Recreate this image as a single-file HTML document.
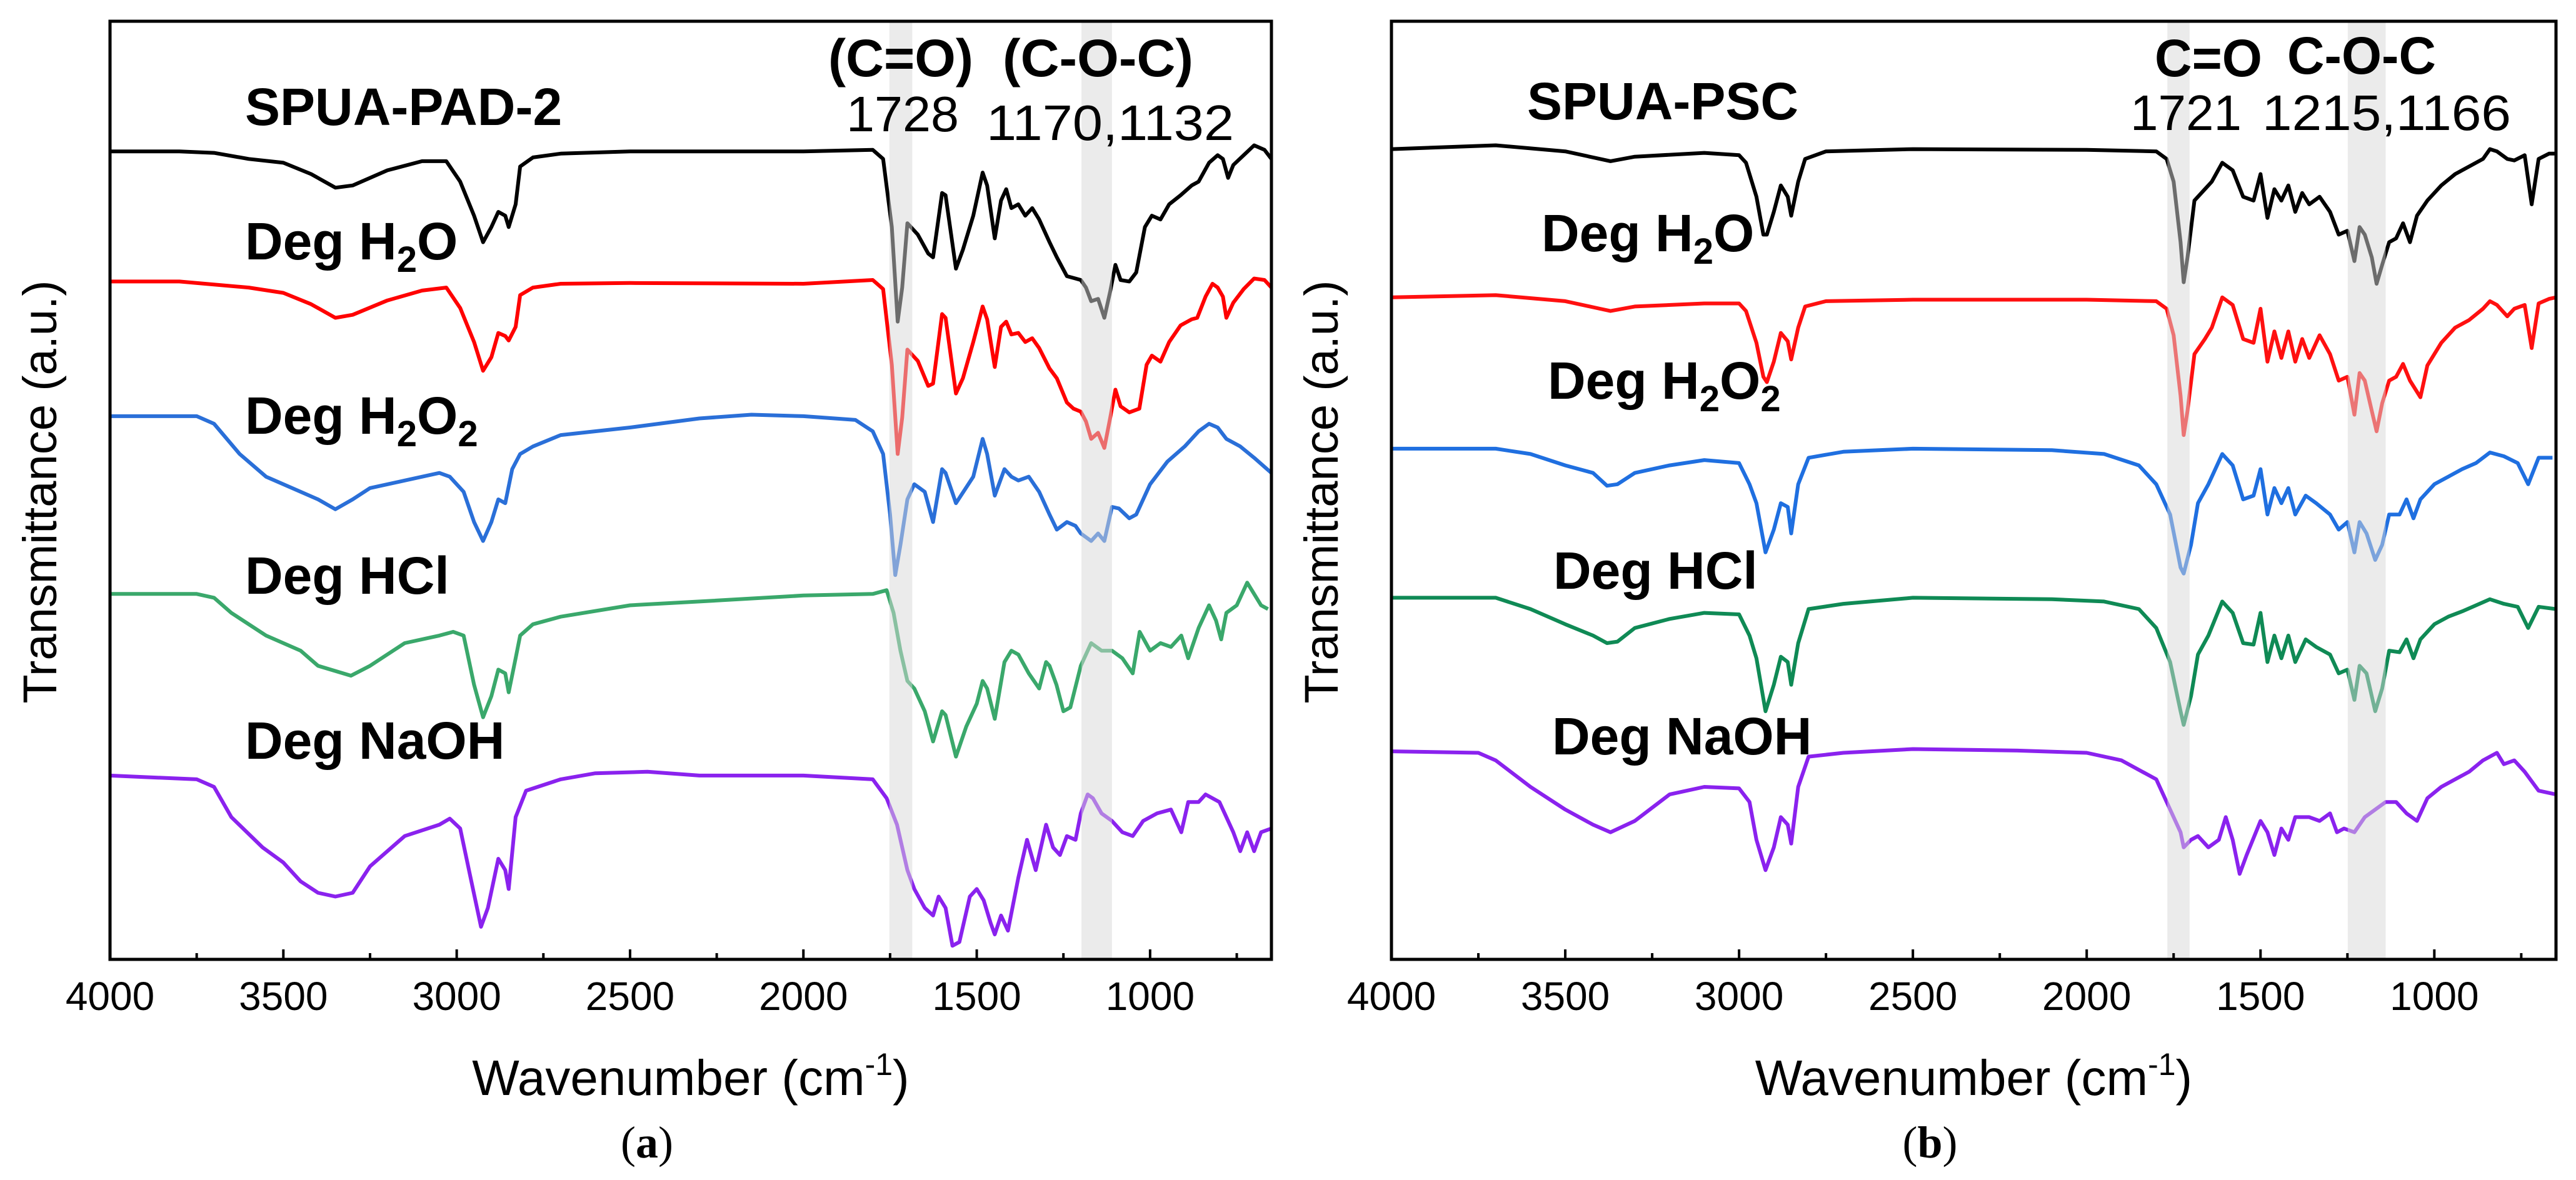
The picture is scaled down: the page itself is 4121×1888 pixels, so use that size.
<!DOCTYPE html>
<html><head><meta charset="utf-8"><style>
html,body{margin:0;padding:0;background:#fff;}
svg{display:block;}
</style></head><body>
<svg id="chart" xmlns="http://www.w3.org/2000/svg" width="4121" height="1888" viewBox="0 0 4121 1888" font-family="'Liberation Sans', Arial, sans-serif">
<rect x="0" y="0" width="4121" height="1888" fill="#fff"/>
<g id="panelA"></g>
<g id="panelB"></g>
</svg>
<script>
// ---------- data ----------
const xTicks = [4000, 3500, 3000, 2500, 2000, 1500, 1000];
const xMinorTicks = [3750, 3250, 2750, 2250, 1750, 1250, 750];
const seriesNamesA = ['SPUA-PAD-2', 'Deg H2O', 'Deg H2O2', 'Deg HCl', 'Deg NaOH'];
const seriesNamesB = ['SPUA-PSC', 'Deg H2O', 'Deg H2O2', 'Deg HCl', 'Deg NaOH'];
const offsetsA = [1068, 896, 718, 483, 243];
const offsetsB = [1071, 875, 675, 478, 275];
const bandsA = [[1752, 1686], [1198, 1110]];
const bandsB = [[1768, 1704], [1249, 1140]];

const blackA = [[4000,0],[3800,0],[3700,2],[3600,10],[3500,15],[3420,30],[3350,48],[3300,45],[3200,25],[3100,13],[3030,13],[2990,40],[2950,85],[2924,120],[2900,100],[2880,80],[2860,85],[2850,100],[2830,70],[2817,20],[2780,8],[2700,3],[2500,0],[2000,0],[1800,-2],[1770,10],[1745,100],[1728,225],[1715,180],[1700,95],[1670,110],[1640,135],[1626,140],[1600,55],[1590,58],[1560,155],[1540,130],[1510,85],[1483,28],[1470,45],[1448,115],[1430,65],[1415,50],[1400,75],[1380,70],[1360,85],[1340,75],[1320,90],[1290,120],[1269,140],[1240,165],[1215,168],[1200,170],[1185,180],[1170,198],[1150,195],[1132,220],[1115,185],[1100,150],[1085,170],[1060,172],[1040,160],[1015,100],[995,85],[970,90],[945,70],[912,58],[880,45],[860,40],[830,15],[805,5],[790,10],[775,35],[760,18],[730,5],[700,-8],[670,-2],[650,10]];
const redA = [[4000,0],[3800,0],[3600,8],[3500,15],[3420,30],[3350,48],[3300,44],[3200,25],[3100,12],[3030,8],[2990,35],[2950,80],[2924,118],[2900,100],[2880,68],[2860,72],[2850,78],[2830,60],[2817,18],[2780,8],[2700,3],[2500,2],[2000,3],[1800,-2],[1770,10],[1745,110],[1728,228],[1715,180],[1700,90],[1670,105],[1640,138],[1626,135],[1600,43],[1590,48],[1560,148],[1540,128],[1510,80],[1483,33],[1470,50],[1448,113],[1430,60],[1415,53],[1400,70],[1380,68],[1360,80],[1340,75],[1320,88],[1290,115],[1269,128],[1240,160],[1221,168],[1200,172],[1185,185],[1170,208],[1150,200],[1132,220],[1115,180],[1100,143],[1085,165],[1060,173],[1031,168],[1010,110],[995,98],[970,106],[945,80],[912,58],[880,50],[864,48],[840,20],[820,3],[805,8],[790,20],[780,48],[760,28],[730,10],[700,-4],[670,-2],[650,8]];
const blueA = [[4000,0],[3750,0],[3700,10],[3626,50],[3550,80],[3450,100],[3400,110],[3350,123],[3300,110],[3250,95],[3150,85],[3050,75],[3020,80],[2980,100],[2950,140],[2924,165],[2900,140],[2880,110],[2860,115],[2840,70],[2817,50],[2780,40],[2700,25],[2500,15],[2300,3],[2150,-2],[2000,0],[1850,5],[1800,20],[1770,50],[1750,130],[1735,210],[1720,170],[1700,110],[1680,90],[1650,100],[1626,140],[1600,70],[1590,75],[1560,115],[1510,80],[1483,30],[1470,50],[1448,105],[1420,70],[1400,80],[1380,85],[1350,80],[1320,100],[1290,130],[1269,150],[1240,140],[1215,145],[1200,155],[1170,165],[1150,155],[1132,165],[1110,120],[1090,122],[1060,135],[1040,130],[1000,90],[950,60],[900,40],[860,20],[830,10],[805,15],[780,30],[740,40],[700,55],[650,75]];
const greenA = [[4000,0],[3750,0],[3700,5],[3650,25],[3550,55],[3450,75],[3400,95],[3305,108],[3250,95],[3150,65],[3050,55],[3010,50],[2980,55],[2950,120],[2924,163],[2900,135],[2880,100],[2860,105],[2850,130],[2830,85],[2817,55],[2780,40],[2700,30],[2500,15],[2300,10],[2000,2],[1800,0],[1760,-5],[1740,25],[1720,75],[1700,115],[1680,125],[1650,155],[1626,195],[1600,155],[1590,160],[1560,215],[1530,175],[1500,145],[1483,115],[1470,125],[1448,165],[1420,90],[1400,75],[1380,80],[1350,105],[1320,125],[1300,90],[1290,95],[1270,120],[1250,155],[1230,150],[1200,95],[1170,65],[1140,75],[1110,75],[1080,85],[1050,105],[1030,50],[1000,75],[970,65],[940,70],[910,55],[890,85],[860,45],[830,15],[810,35],[795,60],[780,25],[750,15],[720,-15],[700,0],[680,15],[660,20]];
const purpleA = [[4000,0],[3750,5],[3700,15],[3650,55],[3560,95],[3500,115],[3450,140],[3400,155],[3350,160],[3300,155],[3250,120],[3150,80],[3050,65],[3020,57],[2990,70],[2960,135],[2930,200],[2910,175],[2880,110],[2860,125],[2850,150],[2830,55],[2800,20],[2700,5],[2600,-3],[2450,-5],[2300,0],[2000,0],[1800,5],[1760,30],[1730,65],[1700,125],[1680,150],[1650,175],[1626,185],[1610,160],[1590,175],[1570,225],[1550,220],[1520,160],[1500,150],[1480,165],[1460,195],[1448,210],[1430,185],[1410,205],[1380,135],[1355,85],[1330,125],[1300,65],[1280,95],[1260,105],[1240,80],[1215,85],[1200,50],[1180,25],[1165,30],[1140,50],[1110,60],[1080,75],[1050,80],[1020,60],[980,50],[940,45],[910,75],[890,35],[860,35],[840,25],[800,35],[780,55],[760,75],[740,100],[720,75],[700,100],[680,75],[650,70]];

const blackB = [[4000,0],[3700,-5],[3500,3],[3400,13],[3370,16],[3300,10],[3100,5],[3000,8],[2980,18],[2950,63],[2930,113],[2920,113],[2900,83],[2880,48],[2860,63],[2850,88],[2830,43],[2810,13],[2750,3],[2500,0],[2000,1],[1800,3],[1770,13],[1750,43],[1730,123],[1721,176],[1710,143],[1690,68],[1660,53],[1640,43],[1610,18],[1580,28],[1550,63],[1520,68],[1500,33],[1480,91],[1460,53],[1440,68],[1420,48],[1400,83],[1380,58],[1360,73],[1330,63],[1300,83],[1275,113],[1250,108],[1230,148],[1215,103],[1200,113],[1180,143],[1166,178],[1150,153],[1130,123],[1110,118],[1090,98],[1070,123],[1050,88],[1020,68],[980,48],[940,33],[900,23],[860,13],[840,0],[820,3],[790,13],[770,15],[740,8],[720,73],[700,13],[670,6],[650,6]];
const redB = [[4000,0],[3700,-3],[3500,5],[3400,15],[3370,18],[3300,12],[3100,8],[3000,8],[2980,18],[2950,60],[2930,105],[2920,112],[2900,85],[2880,47],[2860,58],[2850,82],[2830,40],[2810,12],[2750,5],[2500,3],[2000,3],[1800,5],[1770,15],[1750,50],[1730,130],[1721,182],[1710,150],[1690,75],[1660,55],[1640,40],[1610,0],[1580,10],[1550,55],[1520,60],[1500,15],[1480,85],[1460,45],[1440,80],[1420,45],[1400,85],[1380,55],[1360,80],[1330,50],[1300,75],[1275,110],[1250,105],[1230,155],[1215,100],[1200,110],[1180,150],[1166,177],[1150,140],[1130,110],[1110,105],[1090,88],[1070,110],[1040,132],[1020,90],[980,60],[940,40],[900,30],[860,15],[840,5],[820,10],[790,25],[770,15],[740,10],[720,67],[700,8],[670,2],[650,0]];
const blueB = [[4000,0],[3700,0],[3600,7],[3500,22],[3420,32],[3380,49],[3350,47],[3300,32],[3200,22],[3100,15],[3000,19],[2970,47],[2950,72],[2924,137],[2900,107],[2880,72],[2860,77],[2850,112],[2830,47],[2800,12],[2700,4],[2500,0],[2100,2],[1950,7],[1850,22],[1800,47],[1760,87],[1730,157],[1721,165],[1700,127],[1680,72],[1650,47],[1610,7],[1580,22],[1550,67],[1520,62],[1500,27],[1480,87],[1460,52],[1440,72],[1420,52],[1400,87],[1370,62],[1340,72],[1300,87],[1275,107],[1250,97],[1230,137],[1215,97],[1195,112],[1170,147],[1150,127],[1130,87],[1100,87],[1080,67],[1060,92],[1040,67],[1000,47],[960,37],[920,27],[880,19],[840,5],[800,10],[760,19],[730,47],[700,12],[660,12]];
const greenB = [[4000,0],[3700,0],[3600,15],[3500,35],[3420,50],[3380,60],[3350,58],[3300,40],[3200,28],[3100,20],[3000,22],[2970,50],[2950,80],[2924,150],[2900,115],[2880,78],[2860,85],[2850,115],[2830,60],[2800,15],[2700,8],[2500,0],[2100,2],[1950,5],[1850,15],[1800,40],[1760,85],[1730,150],[1721,168],[1700,130],[1680,75],[1650,50],[1610,5],[1580,20],[1550,60],[1520,62],[1500,20],[1480,85],[1460,50],[1440,80],[1420,50],[1400,85],[1370,55],[1340,65],[1300,75],[1275,100],[1250,95],[1230,135],[1215,90],[1195,100],[1170,150],[1150,120],[1130,70],[1100,72],[1080,55],[1060,80],[1040,55],[1000,35],[960,25],[920,18],[880,10],[840,2],[800,8],[760,12],[730,40],[700,12],[650,15]];
const purpleB = [[4000,0],[3750,2],[3700,12],[3600,47],[3500,77],[3420,97],[3370,107],[3300,92],[3200,57],[3100,47],[3000,49],[2970,67],[2950,117],[2924,157],[2900,127],[2880,87],[2860,97],[2850,122],[2830,47],[2800,7],[2700,2],[2500,-3],[2200,-1],[2000,2],[1900,12],[1800,37],[1760,77],[1730,107],[1721,127],[1700,117],[1680,112],[1650,127],[1620,117],[1600,87],[1580,117],[1560,162],[1540,137],[1500,92],[1480,107],[1460,137],[1440,102],[1420,117],[1400,87],[1360,87],[1330,92],[1300,82],[1280,107],[1260,102],[1230,107],[1200,87],[1170,77],[1140,67],[1110,67],[1080,82],[1050,92],[1020,62],[980,47],[940,37],[900,27],[860,12],[820,2],[800,17],[770,12],[740,27],[700,52],[650,57]];

const colorsA = ['#000000', '#ff0000', '#2a6fd8', '#3aa86b', '#8a22ee'];
const colorsB = ['#000000', '#ff1010', '#1f6fe0', '#0f8a55', '#8a22ee'];

// ---------- drawing ----------
const NS = 'http://www.w3.org/2000/svg';
function mk(tag, attrs, parent) {
  const e = document.createElementNS(NS, tag);
  for (const k in attrs) e.setAttribute(k, attrs[k]);
  parent.appendChild(e);
  return e;
}
const WN_MAX = 4000, WN_MIN = 650, V_MAX = 1240;

function drawPanel(g, frame, series, offsets, colors, bands, labels, anno, panelLetter) {
  const {x0, x1, yt, yb} = frame;
  const xs = wn => x0 + (WN_MAX - wn) / (WN_MAX - WN_MIN) * (x1 - x0);
  const ys = v => yb - v / V_MAX * (yb - yt);
  const clipId = 'clip' + panelLetter;
  const defs = mk('defs', {}, g);
  const cp = mk('clipPath', {id: clipId}, defs);
  mk('rect', {x: x0, y: yt, width: x1 - x0, height: yb - yt}, cp);
  const plot = mk('g', {'clip-path': 'url(#' + clipId + ')'}, g);
  series.forEach((s, i) => {
    const pts = s.map(p => xs(p[0]).toFixed(1) + ',' + ys(offsets[i] - p[1]).toFixed(1)).join(' ');
    const pl = mk('polyline', {points: pts, fill: 'none', stroke: colors[i], 'stroke-width': 6, 'stroke-linejoin': 'round'}, plot);
    
    
  });
  bands.forEach((b, i) => {
    const r = mk('rect', {x: xs(b[0]), y: yt, width: xs(b[1]) - xs(b[0]), height: yb - yt, fill: 'rgb(215,215,215)', 'fill-opacity': 0.5}, plot);
    
    
  });
  const fr = mk('rect', {x: x0, y: yt, width: x1 - x0, height: yb - yt, fill: 'none', stroke: '#000', 'stroke-width': 5}, g);
  
  
  xTicks.forEach(t => {
    const tk = mk('line', {x1: xs(t), x2: xs(t), y1: yb, y2: yb - 16, stroke: '#000', 'stroke-width': 4}, g);
    
    
    const tl = mk('text', {x: xs(t), y: 1616, 'font-size': 64, 'text-anchor': 'middle', fill: '#000'}, g);
    tl.textContent = t;
    
    
  });
  xMinorTicks.forEach(t => {
    const tk = mk('line', {x1: xs(t), x2: xs(t), y1: yb, y2: yb - 10, stroke: '#000', 'stroke-width': 4}, g);
    
    
  });
  // x title
  const xt = mk('text', {x: (x0 + x1) / 2, y: 1752, 'font-size': 80, 'text-anchor': 'middle', fill: '#000'}, g);
  xt.innerHTML = 'Wavenumber (cm<tspan dy="-32" font-size="50">-1</tspan><tspan dy="32">)</tspan>';
  
  
  // y title
  const ytl = mk('text', {x: 0, y: 0, 'font-size': 76, 'text-anchor': 'middle', fill: '#000', transform: 'translate(' + (x0 - 86) + ',787) rotate(-90)'}, g);
  ytl.textContent = 'Transmittance (a.u.)';
  
  
  // series labels
  labels.forEach(l => {
    const t = mk('text', {x: l.x, y: l.y, 'font-size': 84, 'font-weight': 'bold', fill: '#000'}, g);
    t.innerHTML = l.html;
    
    
  });
  anno.forEach(a => {
    const t = mk('text', {x: a.x, y: a.y, 'font-size': a.fs, 'font-weight': a.bold ? 'bold' : 'normal', fill: '#000'}, g);
    if (a.w) { t.setAttribute('textLength', a.w); t.setAttribute('lengthAdjust', 'spacingAndGlyphs'); }
    t.textContent = a.text;
    
    
  });
  const pl = mk('text', {x: (x0 + x1) / 2 - 70, y: 1852, 'font-size': 72, 'text-anchor': 'middle', fill: '#000', 'font-family': "'Liberation Serif', serif"}, g);
  pl.innerHTML = '(<tspan font-weight="bold">' + panelLetter + '</tspan>)';
  
  
}

const sub = s => '<tspan dy="20" font-size="58">' + s + '</tspan>';
const h2o = 'Deg H' + sub('2') + '<tspan dy="-20">O</tspan>';
const h2o2 = 'Deg H' + sub('2') + '<tspan dy="-20">O</tspan>' + sub('2');

drawPanel(document.getElementById('panelA'), {x0: 176, x1: 2034, yt: 34, yb: 1535},
  [blackA, redA, blueA, greenA, purpleA], offsetsA, colorsA, bandsA,
  [{name: seriesNamesA[0], html: 'SPUA-PAD-2', x: 392, y: 200},
   {name: seriesNamesA[1], html: h2o, x: 392, y: 415},
   {name: seriesNamesA[2], html: h2o2, x: 392, y: 694},
   {name: seriesNamesA[3], html: 'Deg HCl', x: 392, y: 950},
   {name: seriesNamesA[4], html: 'Deg NaOH', x: 392, y: 1214}],
  [{text: '(C=O)', x: 1325, y: 122, fs: 84, bold: true, w: 232, name: 'carbonyl-annotation'},
   {text: '(C-O-C)', x: 1604, y: 122, fs: 84, bold: true, w: 305, name: 'ether-annotation'},
   {text: '1728', x: 1354, y: 210, fs: 80, bold: false, w: 180, name: 'carbonyl-wavenumber'},
   {text: '1170,1132', x: 1578, y: 224, fs: 80, bold: false, w: 396, name: 'ether-wavenumbers'}], 'a');

drawPanel(document.getElementById('panelB'), {x0: 2226, x1: 4089, yt: 34, yb: 1535},
  [blackB, redB, blueB, greenB, purpleB], offsetsB, colorsB, bandsB,
  [{name: seriesNamesB[0], html: 'SPUA-PSC', x: 2443, y: 191},
   {name: seriesNamesB[1], html: h2o, x: 2466, y: 402},
   {name: seriesNamesB[2], html: h2o2, x: 2476, y: 638},
   {name: seriesNamesB[3], html: 'Deg HCl', x: 2485, y: 942},
   {name: seriesNamesB[4], html: 'Deg NaOH', x: 2483, y: 1207}],
  [{text: 'C=O', x: 3447, y: 122, fs: 84, bold: true, w: 172, name: 'carbonyl-annotation'},
   {text: 'C-O-C', x: 3659, y: 118, fs: 84, bold: true, w: 238, name: 'ether-annotation'},
   {text: '1721', x: 3408, y: 208, fs: 80, bold: false, w: 178, name: 'carbonyl-wavenumber'},
   {text: '1215,1166', x: 3619, y: 208, fs: 80, bold: false, w: 398, name: 'ether-wavenumbers'}], 'b');
</script>
</body></html>
